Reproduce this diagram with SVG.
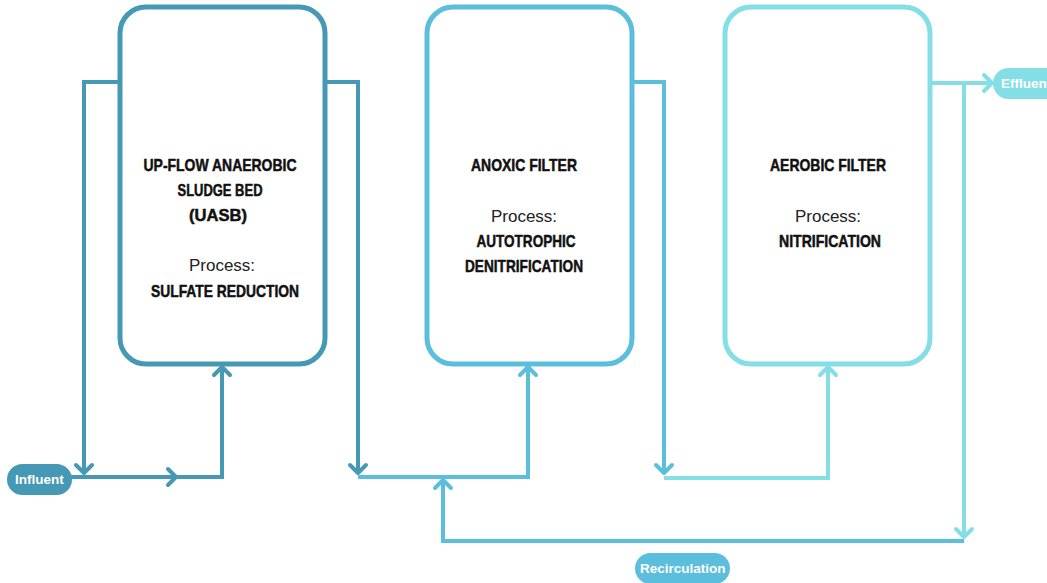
<svg xmlns="http://www.w3.org/2000/svg" width="1047" height="583" viewBox="0 0 1047 583">
  <style>
    .box { fill: #ffffff; stroke-width: 5; }
    .c1 { stroke: #4599b4; }
    .c2 { stroke: #5abedc; }
    .c3 { stroke: #84dee6; }
    .wire { fill: none; stroke-width: 4; stroke-linejoin: miter; }
    .title { font-family: "Liberation Sans", Arial, sans-serif; font-weight: bold; font-size: 17px; fill: #111111; stroke: #111111; stroke-width: 0.5; text-anchor: middle; }
    .proc { font-family: "Liberation Sans", Arial, sans-serif; font-size: 17px; fill: #222222; text-anchor: middle; }
    .pill-text { font-family: "Liberation Sans", Arial, sans-serif; font-weight: bold; font-size: 13.5px; fill: #ffffff; }
  </style>
  <defs>
    <marker id="arrow-c1" viewBox="-12 -12 24 24" markerUnits="userSpaceOnUse" markerWidth="24" markerHeight="24" refX="0" refY="0" orient="auto" overflow="visible">
      <path d="M-8,-8 L0,0 L-8,8" fill="none" stroke="#4599b4" stroke-width="4" stroke-linecap="round" stroke-linejoin="round"/>
    </marker>
    <marker id="arrow-c2" viewBox="-12 -12 24 24" markerUnits="userSpaceOnUse" markerWidth="24" markerHeight="24" refX="0" refY="0" orient="auto" overflow="visible">
      <path d="M-8,-8 L0,0 L-8,8" fill="none" stroke="#5abedc" stroke-width="4" stroke-linecap="round" stroke-linejoin="round"/>
    </marker>
    <marker id="arrow-c3" viewBox="-12 -12 24 24" markerUnits="userSpaceOnUse" markerWidth="24" markerHeight="24" refX="0" refY="0" orient="auto" overflow="visible">
      <path d="M-8,-8 L0,0 L-8,8" fill="none" stroke="#84dee6" stroke-width="4" stroke-linecap="round" stroke-linejoin="round"/>
    </marker>
  </defs>

  <!-- pipework between the reactors -->
  <g id="connectors">
    <polyline class="wire c1" points="120,82 84,82 84,473" marker-end="url(#arrow-c1)"/>
    <polyline class="wire c1" points="70,477 176,477" marker-end="url(#arrow-c1)"/>
    <polyline class="wire c1" points="174,477 222,477 222,367" marker-end="url(#arrow-c1)"/>
    <polyline class="wire c1" points="325,82 358,82 358,473" marker-end="url(#arrow-c1)"/>
    <polyline class="wire c2" points="358,477 528,477 528,367" marker-end="url(#arrow-c2)"/>
    <polyline class="wire c2" points="964,541 443,541 443,480" marker-end="url(#arrow-c2)"/>
    <polyline class="wire c2" points="632,82 664,82 664,473" marker-end="url(#arrow-c2)"/>
    <polyline class="wire c3" points="664,478 828,478 828,367" marker-end="url(#arrow-c3)"/>
    <polyline class="wire c3" points="930,83 992,83" marker-end="url(#arrow-c3)"/>
    <polyline class="wire c3" points="964,83 964,537" marker-end="url(#arrow-c3)"/>
  </g>

  <!-- UASB reactor -->
  <g id="uasb">
    <rect class="box c1" x="120" y="7" width="205" height="357" rx="26"/>
    <text class="title" x="220" y="171" textLength="153" lengthAdjust="spacingAndGlyphs">UP-FLOW ANAEROBIC</text>
    <text class="title" x="220" y="196" textLength="85" lengthAdjust="spacingAndGlyphs">SLUDGE BED</text>
    <text class="title" x="218" y="221" textLength="58" lengthAdjust="spacingAndGlyphs">(UASB)</text>
    <text class="proc" x="222" y="271">Process:</text>
    <text class="title" x="225" y="297" textLength="148" lengthAdjust="spacingAndGlyphs">SULFATE REDUCTION</text>
  </g>

  <!-- anoxic filter -->
  <g id="anoxic">
    <rect class="box c2" x="427" y="7" width="205" height="357" rx="26"/>
    <text class="title" x="524" y="171" textLength="106" lengthAdjust="spacingAndGlyphs">ANOXIC FILTER</text>
    <text class="proc" x="524" y="222">Process:</text>
    <text class="title" x="526" y="247" textLength="99" lengthAdjust="spacingAndGlyphs">AUTOTROPHIC</text>
    <text class="title" x="524" y="272" textLength="118" lengthAdjust="spacingAndGlyphs">DENITRIFICATION</text>
  </g>

  <!-- aerobic filter -->
  <g id="aerobic">
    <rect class="box c3" x="725" y="7" width="205" height="357" rx="26"/>
    <text class="title" x="828" y="171" textLength="116" lengthAdjust="spacingAndGlyphs">AEROBIC FILTER</text>
    <text class="proc" x="828" y="222">Process:</text>
    <text class="title" x="830" y="247" textLength="102" lengthAdjust="spacingAndGlyphs">NITRIFICATION</text>
  </g>

  <!-- stream labels -->
  <g id="influent">
    <rect x="7" y="464" width="65" height="31" rx="15.5" fill="#4599b4"/>
    <text class="pill-text" x="15" y="484">Influent</text>
  </g>
  <g id="effluent">
    <rect x="993" y="68" width="80" height="31" rx="15.5" fill="#84dee6"/>
    <text class="pill-text" x="1001" y="88">Effluent</text>
  </g>
  <g id="recirculation">
    <rect x="635" y="553" width="95" height="31" rx="15.5" fill="#5abedc"/>
    <text class="pill-text" x="640" y="573">Recirculation</text>
  </g>
</svg>
